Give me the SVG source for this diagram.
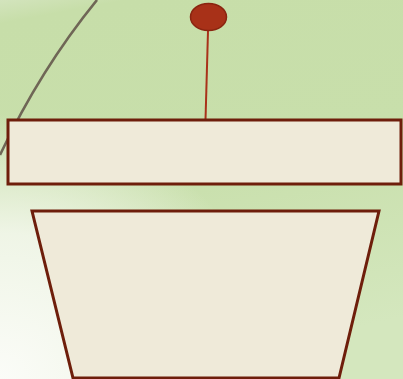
<svg xmlns="http://www.w3.org/2000/svg" width="403" height="379" viewBox="0 0 403 379">
<defs>
<linearGradient id="bg" x1="0" y1="0" x2="0.2" y2="1">
<stop offset="0" stop-color="#d3e4bd"/>
<stop offset="0.06" stop-color="#c7dea9"/>
<stop offset="0.5" stop-color="#c8dfab"/>
<stop offset="1" stop-color="#d4e7be"/>
</linearGradient>
<radialGradient id="wh" cx="0" cy="1" r="0.7">
<stop offset="0" stop-color="#fbfcf8"/>
<stop offset="0.55" stop-color="#f3f7ec" stop-opacity="0.9"/>
<stop offset="1" stop-color="#f3f7ec" stop-opacity="0"/>
</radialGradient>
<style>
.shape{fill:#efead9;stroke:#6e1e0b;stroke-width:3}
</style>
</defs>
<rect width="403" height="379" fill="url(#bg)"/>
<rect width="403" height="379" fill="url(#wh)"/>
<path d="M97,0 Q40,70 0,155" fill="none" stroke="#6f6656" stroke-width="2.6"/>
<g id="connectors">
<line x1="208" y1="31" x2="205.5" y2="120" stroke="#a9321a" stroke-width="2"/>
</g>
<g id="pin">
<ellipse cx="208.5" cy="17" rx="18" ry="13.5" fill="#a83118" stroke="#8a2510" stroke-width="1.5"/>
</g>
<g id="bar">
<rect x="8" y="120" width="393" height="64" class="shape"/>
</g>
<g id="base">
<polygon points="32,211 379,211 339,378 73,378" class="shape"/>
</g>
</svg>
